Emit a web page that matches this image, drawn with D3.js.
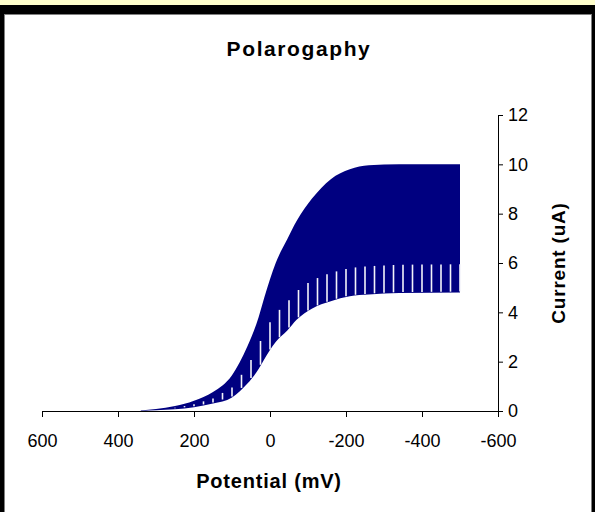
<!DOCTYPE html>
<html>
<head>
<meta charset="utf-8">
<script src="https://cdn.jsdelivr.net/npm/d3@7"></script>
<style>
  html, body { margin: 0; padding: 0; background: #ffffcc; }
  svg { display: block; font-family: "Liberation Sans", Arial, sans-serif; }
</style>
</head>
<body>
<div id="chart"></div>
<script>
// envelope of the drop currents (mV, uA)
const potential    = [340, 300, 250, 200, 150, 100, 60, 30, 15, -15, -45, -70, -110, -160, -210, -260, -340, -500];
const upperCurrent = [0.02, 0.08, 0.2, 0.42, 0.77, 1.45, 2.6, 3.8, 4.6, 6.0, 6.95, 7.7, 8.6, 9.4, 9.8, 9.96, 10.0, 10.0];
const lowerCurrent = [0.0, 0.03, 0.07, 0.15, 0.3, 0.55, 1.1, 1.7, 2.1, 2.8, 3.25, 3.7, 4.15, 4.45, 4.65, 4.72, 4.78, 4.8];

// potentials where a new drop starts (white gaps)
const dropStarts = [325, 300, 275, 250, 225, 200, 175, 150, 125, 100, 75, 50, 25, 0, -25, -50, -75, -100,
  -125, -150, -175, -200, -225, -250, -275, -300, -325, -350, -375, -400, -425, -450, -475, -500];

const xTicks = [600, 400, 200, 0, -200, -400, -600];
const yTicks = [0, 2, 4, 6, 8, 10, 12];

const W = 595, H = 512;
const svg = d3.select('#chart').append('svg')
  .attr('width', W).attr('height', H);

// frame
svg.append('rect').attr('x', 0).attr('y', 0).attr('width', W).attr('height', H).attr('fill', '#ffffcc');
svg.append('rect').attr('x', 0).attr('y', 5).attr('width', W).attr('height', H).attr('fill', '#000');
svg.append('rect').attr('x', 4).attr('y', 14).attr('width', 588).attr('height', H).attr('fill', '#808080');
svg.append('rect').attr('x', 5).attr('y', 15).attr('width', 586).attr('height', H).attr('fill', '#fff');

const x = d3.scaleLinear().domain([600, -600]).range([42, 498]);
const y = d3.scaleLinear().domain([0, 12]).range([411, 115]);

// title
svg.append('text')
  .attr('x', 299).attr('y', 56)
  .attr('text-anchor', 'middle')
  .attr('font-size', 21).attr('font-weight', 'bold')
  .attr('letter-spacing', 1.6)
  .text('Polarogaphy');

// current band
const area = d3.area()
  .x((d, i) => x(potential[i]))
  .y0((d, i) => y(lowerCurrent[i]))
  .y1((d, i) => y(upperCurrent[i]))
  .curve(d3.curveMonotoneX);

svg.append('path')
  .datum(potential)
  .attr('fill', '#000080')
  .attr('d', area);

// white gaps where drops fall
const lowAt = d3.scaleLinear().domain(potential).range(lowerCurrent);
const upAt = d3.scaleLinear().domain(potential).range(upperCurrent);
const gapTop = e => lowAt(e) + Math.min(0.45 * (upAt(e) - lowAt(e)), 1.15);
svg.selectAll('.gap')
  .data(dropStarts.filter(e => e < 260))
  .enter().append('line')
  .attr('class', 'gap')
  .attr('x1', d => x(d)).attr('x2', d => x(d))
  .attr('y1', d => y(lowAt(d)) - 1)
  .attr('y2', d => y(gapTop(d)))
  .attr('stroke', '#f4f4fa')
  .attr('stroke-width', 1.6);

// x axis
const xAxis = svg.append('g')
  .attr('transform', 'translate(0,411)')
  .call(d3.axisBottom(x).tickValues(xTicks).tickSize(6).tickPadding(17).tickFormat(d => String(d)));
xAxis.select('.domain').attr('stroke', '#000').attr('d', 'M42.5,0.5H498.5');
xAxis.selectAll('.tick line').attr('stroke', '#000');
xAxis.selectAll('text').attr('font-size', 18).attr('font-family', 'Liberation Sans, Arial, sans-serif').attr('fill', '#000');

// y axis (right side)
const yAxis = svg.append('g')
  .attr('transform', 'translate(498,0)')
  .call(d3.axisRight(y).tickValues(yTicks).tickSize(5).tickPadding(5));
yAxis.select('.domain').attr('stroke', '#000').attr('d', 'M0.5,115.5V411.5');
yAxis.selectAll('.tick line').attr('stroke', '#000');
yAxis.selectAll('text').attr('font-size', 18).attr('font-family', 'Liberation Sans, Arial, sans-serif').attr('fill', '#000');

// axis titles
svg.append('text')
  .attr('x', 269).attr('y', 488)
  .attr('text-anchor', 'middle')
  .attr('font-size', 20).attr('font-weight', 'bold')
  .attr('letter-spacing', 0.8)
  .text('Potential (mV)');

svg.append('text')
  .attr('transform', 'translate(565,263) rotate(-90)')
  .attr('text-anchor', 'middle')
  .attr('font-size', 19).attr('font-weight', 'bold')
  .attr('letter-spacing', 0.8)
  .text('Current (uA)');
</script>
</body>
</html>
